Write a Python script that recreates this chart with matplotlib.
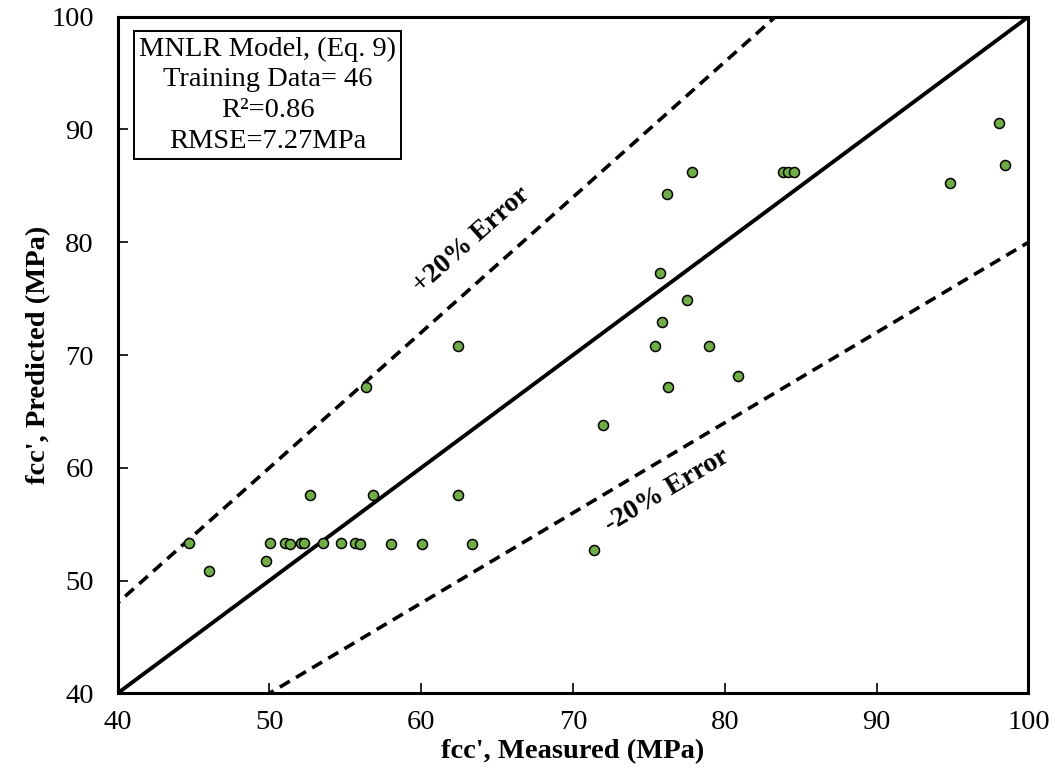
import numpy as np
import matplotlib
matplotlib.use("Agg")
import matplotlib.pyplot as plt

plt.rcParams['font.family'] = ['Liberation Serif', 'DejaVu Serif']

# measured vs predicted fcc' (MPa)
measured = [44.71, 46.04, 49.78, 50.04, 51.03, 51.36, 52.06, 52.28, 52.67, 53.55,
            54.73, 55.66, 55.96, 56.84, 58.00, 60.05, 62.44, 63.38,
            98.03, 98.47, 94.85, 77.87, 76.22, 83.83, 84.16, 84.54, 75.76, 77.51,
            75.87, 75.37, 78.96, 80.87, 76.26, 71.96, 62.44, 56.34, 71.35]
predicted = [53.34, 50.82, 51.74, 53.34, 53.34, 53.28, 53.34, 53.34, 57.62, 53.34,
             53.34, 53.34, 53.28, 57.62, 53.28, 53.28, 57.62, 53.28,
             90.54, 86.88, 85.25, 86.20, 84.28, 86.20, 86.20, 86.20, 77.30, 74.85,
             72.96, 70.77, 70.77, 68.11, 67.20, 63.83, 70.77, 67.17, 52.75]

info_lines = ["MNLR Model, (Eq. 9)", "Training Data= 46", "R²=0.86", "RMSE=7.27MPa"]

fig = plt.figure(figsize=(10.54, 7.82), dpi=100)
ax = fig.add_axes([0.1115, 0.1134, 0.8643, 0.8652])

# 1:1 line and +/-20% bands
line_x = np.array([0, 120])
ax.plot(line_x, line_x, color='black', lw=2.8, zorder=2)
ax.plot(line_x, 1.2 * line_x, color='black', lw=2.6, dashes=(3.2, 2.0), zorder=2)
ax.plot(line_x, 0.8 * line_x, color='black', lw=2.6, dashes=(3.2, 2.0), zorder=2)

ax.scatter(measured, predicted, s=52, color='#70AD47', edgecolor='black',
           linewidth=1.1, zorder=3)

ax.set_xlim(40, 100)
ax.set_ylim(40, 100)
ax.set_xticks(range(40, 101, 10))
ax.set_yticks(range(40, 101, 10))
ax.tick_params(direction='in', length=7, width=1.2, labelsize=20.5)
ax.tick_params(axis='x', pad=12)
ax.tick_params(axis='y', pad=17)
for s in ax.spines.values():
    s.set_linewidth(2.2)

ax.set_xlabel("fcc', Measured (MPa)", fontsize=20.5, fontweight='bold', labelpad=3)
ax.set_ylabel("fcc', Predicted (MPa)", fontsize=20.5, fontweight='bold', labelpad=0)

ax.text(63.34, 80.2, "+20% Error", rotation=41.7, fontsize=20, fontweight='bold',
        ha='center', va='center', rotation_mode='anchor')
ax.text(76.18, 58.0, "-20% Error", rotation=30.7, fontsize=20, fontweight='bold',
        ha='center', va='center', rotation_mode='anchor')

ax.text(0.1647, 0.8843, "\n".join(info_lines), transform=ax.transAxes, fontsize=20.5,
        ha='center', va='center', linespacing=1.3,
        bbox=dict(boxstyle='square,pad=0.18', facecolor='white', edgecolor='black', lw=1.4))

fig.savefig("out.png", dpi=100)
